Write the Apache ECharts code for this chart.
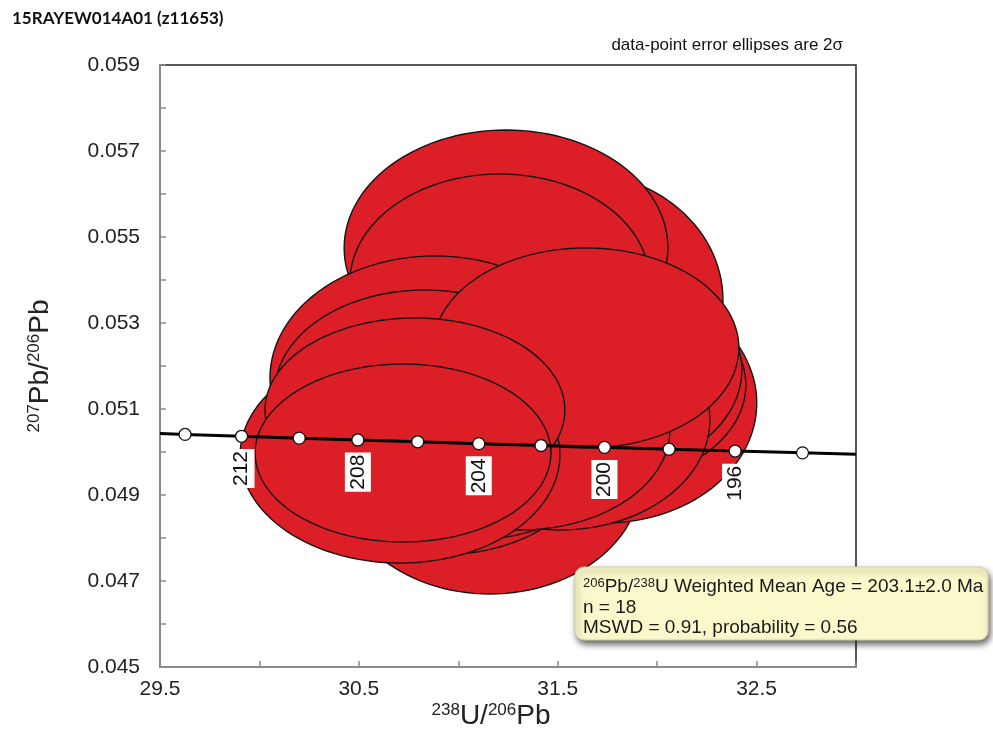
<!DOCTYPE html>
<html>
<head>
<meta charset="utf-8">
<script src="https://cdn.jsdelivr.net/npm/echarts@6/dist/echarts.min.js"></script>
<style>
  html, body { margin: 0; padding: 0; background: #fff; }
  #chart { width: 993px; height: 731px; }
</style>
</head>
<body>
<div id="chart"></div>
<script>
// Tera-Wasserburg concordia diagram with 2σ data-point error ellipses
const sampleName = '15RAYEW014A01 (z11653)';

// Error ellipses, back to front: centre (238U/206Pb, 207Pb/206Pb) and 2σ half-widths
const ellX  = [31.587, 31.240, 31.209, 30.883, 30.832, 31.159, 31.737, 31.702, 31.682,
               31.511, 30.908, 31.059, 30.983, 31.310, 31.642, 30.707, 30.782, 30.722];
const ellY  = [0.053535, 0.054744, 0.053953, 0.051721, 0.051395, 0.049442, 0.051140, 0.051558, 0.051907,
               0.050744, 0.049814, 0.050279, 0.050628, 0.050512, 0.052419, 0.049930, 0.050977, 0.049977];
const ellSx = [0.744, 0.814, 0.754, 0.830, 0.754, 0.764, 0.764, 0.744, 0.744,
               0.754, 0.744, 0.754, 0.744, 0.754, 0.769, 0.804, 0.754, 0.744];
const ellSy = [0.002977, 0.002744, 0.002512, 0.002837, 0.002372, 0.002744, 0.002791, 0.002326, 0.002442,
               0.002558, 0.002209, 0.002326, 0.002326, 0.002326, 0.002326, 0.002512, 0.002140, 0.002070];

// Concordia age marks (Ma)
const concAges = [214, 212, 210, 208, 206, 204, 202, 200, 198, 196, 194];
const concX = [29.626, 29.910, 30.200, 30.495, 30.796, 31.103, 31.416, 31.735, 32.060, 32.392, 32.731];
const concY = [0.050409, 0.050365, 0.050322, 0.050280, 0.050237, 0.050194, 0.050151, 0.050108, 0.050065, 0.050022, 0.049980];
const labelledAges = [212, 208, 204, 200, 196];

// Concordia trace across the plot window
const curveX = [29.5].concat(concX, [33.0]);
const curveY = [0.050429].concat(concY, [0.049947]);

// Labelled axis ticks
const xTickLabels = [29.5, 30.5, 31.5, 32.5];
const yTickLabels = [0.045, 0.047, 0.049, 0.051, 0.053, 0.055, 0.057, 0.059];

const statText = '{s|206}Pb/{s|238}U Weighted Mean Age = 203.1±2.0 Ma\nn = 18\nMSWD = 0.91, probability = 0.56';
const errorNote = 'data-point error ellipses are 2σ';

const FONT = '"Liberation Sans", Arial, sans-serif';
const near = (v, list) => list.some(t => Math.abs(v - t) < 1e-7);

const chart = echarts.init(document.getElementById('chart'), null, { renderer: 'canvas' });

chart.setOption({
  animation: false,
  backgroundColor: '#fff',
  grid: { left: 160, right: 137, top: 65, bottom: 64, show: true, borderColor: '#222', borderWidth: 1.5, backgroundColor: 'transparent' },
  xAxis: {
    type: 'value', min: 29.5, max: 33.0, interval: 0.5,
    axisLine: { show: true, lineStyle: { color: '#8a8a8a', width: 2 } },
    axisTick: { show: true, inside: true, length: 6, lineStyle: { color: '#8a8a8a', width: 1.5 } },
    splitLine: { show: false },
    axisLabel: {
      margin: 12, fontSize: 21, fontFamily: FONT, color: '#222',
      formatter: v => near(v, xTickLabels) ? v.toFixed(1) : ''
    }
  },
  yAxis: {
    type: 'value', min: 0.045, max: 0.059, interval: 0.001,
    axisLine: { show: true, lineStyle: { color: '#8a8a8a', width: 2 } },
    axisTick: { show: true, inside: true, length: 6, lineStyle: { color: '#8a8a8a', width: 1.5 } },
    splitLine: { show: false },
    axisLabel: {
      margin: 20, fontSize: 21, fontFamily: FONT, color: '#222',
      formatter: v => near(v, yTickLabels) ? v.toFixed(3) : ''
    }
  },
  series: [
    {
      type: 'custom',
      name: 'ellipses',
      clip: true,
      z: 2,
      silent: true,
      encode: { x: 0, y: 1 },
      data: ellX.map((x, i) => [x, ellY[i], ellSx[i], ellSy[i]]),
      renderItem: (params, api) => {
        const cx = api.value(0), cy = api.value(1), sx = api.value(2), sy = api.value(3);
        const pts = [];
        const n = 120;
        for (let k = 0; k < n; k++) {
          const t = 2 * Math.PI * k / n;
          pts.push(api.coord([cx + sx * Math.cos(t), cy + sy * Math.sin(t)]));
        }
        return {
          type: 'polygon',
          shape: { points: pts },
          style: { fill: '#DC1F26', stroke: '#141414', lineWidth: 1.4 }
        };
      }
    },
    {
      type: 'line',
      name: 'concordia',
      z: 3,
      silent: true,
      showSymbol: false,
      symbol: 'none',
      lineStyle: { color: '#000', width: 3 },
      data: curveX.map((x, i) => [x, curveY[i]])
    },
    {
      type: 'scatter',
      name: 'ages',
      z: 4,
      silent: true,
      symbol: 'circle',
      symbolSize: 12,
      itemStyle: { color: '#fff', borderColor: '#111', borderWidth: 1.3, opacity: 1 },
      label: {
        position: 'bottom', distance: 6, rotate: 90,
        align: 'right', verticalAlign: 'middle',
        formatter: '{b}', fontSize: 21, fontFamily: FONT, color: '#111',
        backgroundColor: '#fff', padding: [3, 2, 2, 2]
      },
      data: concAges.map((a, i) => ({
        value: [concX[i], concY[i]],
        name: String(a),
        label: { show: labelledAges.includes(a) }
      }))
    }
  ],
  graphic: [
    {
      type: 'text', left: 12, top: 10,
      style: { text: sampleName, font: 'bold 17px Lato, "Open Sans", sans-serif', fill: '#111' }
    },
    {
      type: 'text', x: 843, y: 45,
      style: { text: errorNote, fontSize: 17, fontFamily: FONT, fill: '#111', align: 'right', verticalAlign: 'middle' }
    },
    {
      type: 'text', x: 491, y: 716,
      style: {
        text: '{s|238}U/{s|206}Pb', fontSize: 28, fontFamily: FONT, fill: '#222',
        align: 'center', verticalAlign: 'middle',
        rich: { s: { fontSize: 17, fontFamily: FONT, fill: '#222', verticalAlign: 'top', lineHeight: 14 } }
      }
    },
    {
      type: 'text', x: 40, y: 366, rotation: Math.PI / 2,
      style: {
        text: '{s|207}Pb/{s|206}Pb', fontSize: 28, fontFamily: FONT, fill: '#222',
        align: 'center', verticalAlign: 'middle',
        rich: { s: { fontSize: 17, fontFamily: FONT, fill: '#222', verticalAlign: 'top', lineHeight: 14 } }
      }
    },
    {
      type: 'rect', z: 10,
      shape: { x: 575, y: 567, width: 413, height: 73, r: 9 },
      style: {
        fill: '#FBF8CB', stroke: '#d6d1a2', lineWidth: 1,
        shadowBlur: 6, shadowOffsetX: 2, shadowOffsetY: 4, shadowColor: 'rgba(0,0,0,0.6)'
      }
    },
    {
      type: 'text', z: 11, x: 583, y: 577,
      style: {
        text: statText, fontSize: 19, fontFamily: FONT, fill: '#1a1a1a', lineHeight: 20.5,
        rich: { s: { fontSize: 13, fontFamily: FONT, fill: '#1a1a1a', verticalAlign: 'top', lineHeight: 10 } }
      }
    }
  ]
});
</script>
</body>
</html>
